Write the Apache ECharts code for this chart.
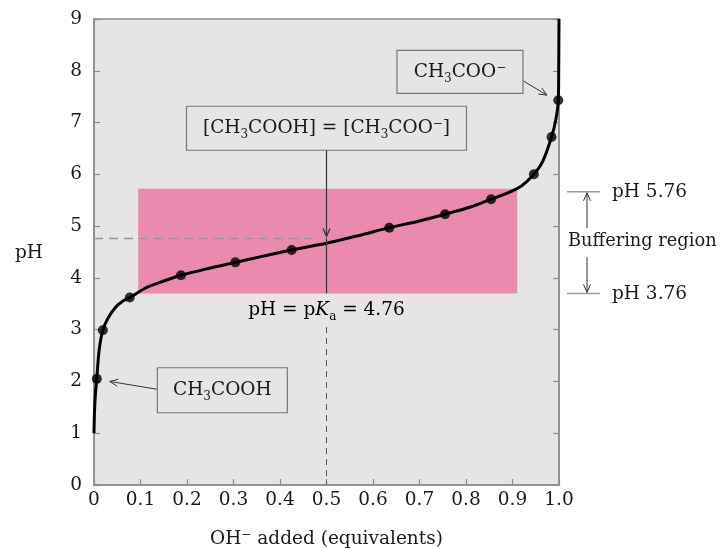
<!DOCTYPE html>
<html>
<head>
<meta charset="utf-8">
<script src="https://cdn.jsdelivr.net/npm/echarts@6/dist/echarts.min.js"></script>
<style>
html, body { margin: 0; padding: 0; background: #fff; }
#chart { width: 720px; height: 549px; }
</style>
</head>
<body>
<div id="chart"></div>
<script>
// titration curve (equivalents of OH- vs pH)
var curveX  = [0.0, 0.001, 0.003, 0.006, 0.011, 0.019, 0.030, 0.045, 0.060, 0.077, 0.110, 0.150, 0.187, 0.240, 0.304, 0.364, 0.425, 0.500, 0.570, 0.635, 0.700, 0.755, 0.810, 0.854, 0.890, 0.920, 0.946, 0.965, 0.984, 0.993, 0.9985, 0.9995, 1.0];
var curvePH = [1.0, 1.40, 1.75, 2.05, 2.60, 2.99, 3.22, 3.42, 3.54, 3.62, 3.80, 3.94, 4.05, 4.17, 4.30, 4.42, 4.54, 4.67, 4.82, 4.97, 5.10, 5.23, 5.37, 5.52, 5.64, 5.78, 6.00, 6.25, 6.72, 7.05, 7.43, 8.20, 9.0];
// measured points (dots)
var pointX  = [0.006, 0.019, 0.077, 0.187, 0.304, 0.425, 0.635, 0.755, 0.854, 0.946, 0.984, 0.9985];
var pointPH = [2.05, 2.99, 3.62, 4.05, 4.30, 4.54, 4.97, 5.23, 5.52, 6.00, 6.72, 7.43];
// buffering region
var bufferX  = [0.095, 0.91];
var bufferPH = [3.70, 5.72];
var pKa = 4.76;
var xTicks = [0, 0.1, 0.2, 0.3, 0.4, 0.5, 0.6, 0.7, 0.8, 0.9, 1.0];
var yTicks = [0, 1, 2, 3, 4, 5, 6, 7, 8, 9];

var FONT = 'DejaVu Serif';
var TXT = '#1a1a1a';
var BG = '#e5e5e5';
var FRAME = '#8c8c8c';

var chart = echarts.init(document.getElementById('chart'));

var curve = curveX.map(function (x, i) { return [x, curvePH[i]]; });
var dots = pointX.map(function (x, i) { return [x, pointPH[i]]; });

var rich = {
    n: { fontFamily: FONT, fontSize: 18.5, color: TXT, lineHeight: 26, verticalAlign: 'middle' },
    i: { fontFamily: FONT, fontSize: 18.5, color: TXT, lineHeight: 26, fontStyle: 'italic', verticalAlign: 'middle' },
    s: { fontFamily: FONT, fontSize: 12, color: TXT, lineHeight: 26, verticalAlign: 'bottom' },
    u: { fontFamily: FONT, fontSize: 12, color: TXT, lineHeight: 26, verticalAlign: 'top', padding: [3, 0, 0, 0] }
};

var option = {
    animation: false,
    backgroundColor: '#fff',
    grid: {
        left: 94, right: 161, top: 19, bottom: 64,
        outerBoundsMode: 'none',
        show: true, backgroundColor: BG, borderColor: FRAME, borderWidth: 1.5
    },
    xAxis: {
        type: 'value', min: 0, max: 1, interval: 0.1,
        axisLine: { lineStyle: { color: FRAME, width: 1.5 } },
        axisTick: { inside: true, length: 6, lineStyle: { color: FRAME, width: 1.2 } },
        splitLine: { show: false },
        axisLabel: {
            margin: 6, fontFamily: FONT, fontSize: 18.5, color: TXT,
            formatter: function (v) {
                var t = xTicks.filter(function (k) { return Math.abs(k - v) < 1e-6; })[0];
                return t === 0 ? '0' : t.toFixed(1);
            }
        },
        name: '{n|OH}{u|\u2212}{n| added (equivalents)}',
        nameLocation: 'middle', nameGap: 41,
        nameTextStyle: { rich: rich }
    },
    yAxis: [{
        type: 'value', min: 0, max: 9, interval: 1,
        axisLine: { lineStyle: { color: FRAME, width: 1.5 } },
        axisTick: { inside: true, length: 6, lineStyle: { color: FRAME, width: 1.2 } },
        splitLine: { show: false },
        axisLabel: { margin: 12, fontFamily: FONT, fontSize: 18.5, color: TXT,
            formatter: function (v) { return String(yTicks[Math.round(v)]); } }
    }, {
        type: 'value', min: 0, max: 9, interval: 1, position: 'right',
        axisLine: { show: true, lineStyle: { color: FRAME, width: 1.5 } },
        axisTick: { inside: true, length: 6, lineStyle: { color: FRAME, width: 1.2 } },
        splitLine: { show: false },
        axisLabel: { show: false }
    }],
    series: [{
        type: 'line',
        data: curve,
        smooth: 0.3,
        showSymbol: false,
        lineStyle: { color: '#000', width: 3 },
        z: 5,
        markArea: {
            silent: true,
            itemStyle: { color: '#eb8aaf' },
            data: [[{ coord: [bufferX[0], bufferPH[1]] }, { coord: [bufferX[1], bufferPH[0]] }]]
        }
    }, {
        type: 'scatter',
        data: dots,
        symbolSize: 10,
        itemStyle: { color: '#000' },
        z: 6
    }]
};
chart.setOption(option);

function px(x, y) {
    return chart.convertToPixel({ xAxisIndex: 0, yAxisIndex: 0 }, [x, y]);
}

function line(p0, p1, color, w, dash, z) {
    return {
        type: 'line', z: z || 20,
        shape: { x1: p0[0], y1: p0[1], x2: p1[0], y2: p1[1] },
        style: { stroke: color, lineWidth: w, lineDash: dash || null }
    };
}

function arrow(p0, p1, color, w) {
    var dx = p1[0] - p0[0], dy = p1[1] - p0[1];
    var L = Math.sqrt(dx * dx + dy * dy);
    var ux = dx / L, uy = dy / L, s = 8, h = 3.5;
    return [
        line(p0, p1, color, w),
        {
            type: 'polyline', z: 20,
            shape: { points: [
                [p1[0] - ux * s - uy * h, p1[1] - uy * s + ux * h],
                [p1[0], p1[1]],
                [p1[0] - ux * s + uy * h, p1[1] - uy * s - ux * h]
            ] },
            style: { stroke: color, fill: null, lineWidth: w }
        }
    ];
}

function box(c, w, h, text) {
    return [{
        type: 'rect', z: 20,
        shape: { x: c[0] - w / 2, y: c[1] - h / 2, width: w, height: h },
        style: { fill: BG, stroke: '#777', lineWidth: 1.2 }
    }, {
        type: 'text', z: 21, x: c[0], y: c[1],
        style: { text: text, rich: rich, align: 'center', verticalAlign: 'middle', fill: TXT }
    }];
}

function label(p, text, align, size) {
    return {
        type: 'text', z: 21, x: p[0], y: p[1],
        style: { text: text, fontFamily: FONT, fontSize: size || 18.5, fill: TXT,
            align: align || 'left', verticalAlign: 'middle' }
    };
}

function draw() {
    var g = [];
    var mid = px(0.5, pKa);
    var left = px(0, pKa);
    var topY = px(bufferX[1], bufferPH[1]);
    var botY = px(bufferX[1], bufferPH[0]);
    var grid = px(1, 0);

    // pKa guide lines
    g.push(line(left, px(0.47, pKa), '#979797', 1.6, [9, 6], 8));
    g.push(line(px(0.5, 3.05), px(0.5, 0), '#555', 1, [6, 5], 8));
    g.push(line(px(0.5, pKa), px(0.5, bufferPH[0]), '#333', 1.2, null, 8));

    // box: [CH3COOH] = [CH3COO-]
    var b1 = px(0.5, 6.89);
    g = g.concat(box(b1, 280, 44, '{n|[CH}{s|3}{n|COOH] = [CH}{s|3}{n|COO}{u|\u2212}{n|]}'));
    g = g.concat(arrow([b1[0], b1[1] + 22], [mid[0], mid[1] - 2], '#333', 1.2));

    // box: CH3COO-
    var b2 = px(0.787, 7.98);
    g = g.concat(box(b2, 126, 43, '{n|CH}{s|3}{n|COO}{u|\u2212}'));
    g = g.concat(arrow(px(0.924, 7.8), px(0.974, 7.53), '#333', 1));

    // box: CH3COOH
    var b3 = px(0.276, 1.83);
    g = g.concat(box(b3, 130, 45, '{n|CH}{s|3}{n|COOH}'));
    g = g.concat(arrow(px(0.135, 1.85), px(0.034, 2.0), '#333', 1));

    // pH = pKa label
    g.push({
        type: 'text', z: 21, x: mid[0], y: px(0.5, 3.38)[1],
        style: { text: '{n|pH = p}{i|K}{s|a}{n| = 4.76}', rich: rich, align: 'center', verticalAlign: 'middle' }
    });

    // buffering region annotation (right of the frame)
    var rx = grid[0];
    g.push(line([rx + 8, topY[1] + 3], [rx + 41, topY[1] + 3], '#9a9a9a', 1.5));
    g.push(line([rx + 8, botY[1]], [rx + 41, botY[1]], '#9a9a9a', 1.5));
    g.push(label([rx + 53, topY[1] + 3], 'pH 5.76'));
    g.push(label([rx + 53, botY[1] + 1], 'pH 3.76'));
    var midY = (topY[1] + botY[1]) / 2;
    g.push(label([rx + 9, midY], 'Buffering region', 'left', 17.8));
    g = g.concat(arrow([rx + 28, midY - 13], [rx + 28, topY[1] + 4], '#333', 1));
    g = g.concat(arrow([rx + 28, midY + 16], [rx + 28, botY[1] - 1], '#333', 1));

    // y axis name
    g.push(label([29, px(0, 4.48)[1]], 'pH', 'center'));

    chart.setOption({ graphic: g });
}
draw();
</script>
</body>
</html>
